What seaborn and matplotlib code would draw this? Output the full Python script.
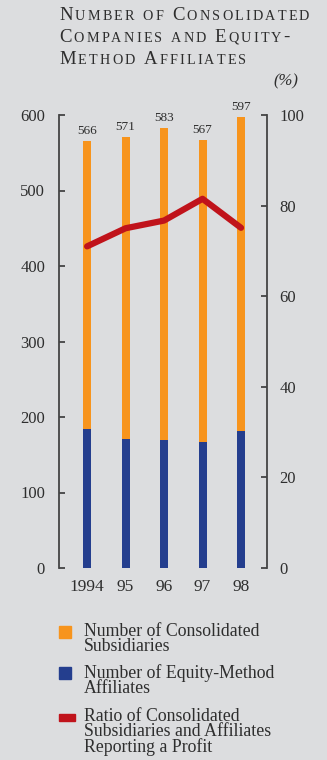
import matplotlib
matplotlib.use("Agg")
import matplotlib.pyplot as plt
import matplotlib.patches as mpatches
import seaborn as sns

# data
years = ["1994", "95", "96", "97", "98"]
consolidated = [566, 571, 583, 567, 597]
equity_method = [184, 171, 170, 167, 181]
profit_ratio = [71.0, 75.0, 76.7, 81.5, 75.1]

legend_labels = ["Number of Consolidated\nSubsidiaries",
                 "Number of Equity-Method\nAffiliates",
                 "Ratio of Consolidated\nSubsidiaries and Affiliates\nReporting a Profit"]

bg = "#dcdddf"
orange = "#f7941d"
blue = "#243e8e"
red = "#c0131b"
ink = "#2e2e2e"
spine_col = "#444444"

sns.set_theme(style="white")
plt.rcParams["font.family"] = ["Liberation Serif", "DejaVu Serif"]

W, H = 327, 760
fig = plt.figure(figsize=(W / 100, H / 100), dpi=100, facecolor=bg)
ax = fig.add_axes([59 / W, 1 - 568 / H, (267 - 59) / W, (568 - 115) / H])
ax.set_facecolor(bg)

sns.barplot(x=years, y=consolidated, color=orange, width=0.21, saturation=1,
            linewidth=0, ax=ax)
sns.barplot(x=years, y=equity_method, color=blue, width=0.21, saturation=1,
            linewidth=0, ax=ax)

for i, v in enumerate(consolidated):
    ax.annotate(str(v), (i, v), xytext=(0, 5), textcoords="offset points",
                ha="center", va="baseline", fontsize=9.5, color=ink)

ax.set_xlim(-0.73, 4.675)
ax.set_ylim(0, 600)
ax.set_yticks([0, 100, 200, 300, 400, 500, 600])
ax.set_xlabel("")
ax.set_ylabel("")

ax2 = ax.twinx()
sns.lineplot(x=list(range(len(years))), y=profit_ratio, color=red, linewidth=4.5,
             solid_capstyle="round", solid_joinstyle="round", ax=ax2)
ax2.set_ylim(0, 100)
ax2.set_yticks([0, 20, 40, 60, 80, 100])
ax2.set_ylabel("")

for a in (ax, ax2):
    for s in ("top", "bottom"):
        a.spines[s].set_visible(False)
ax.spines["right"].set_visible(False)
ax2.spines["left"].set_visible(False)
ax.spines["left"].set_color(spine_col)
ax.spines["left"].set_linewidth(1.3)
ax2.spines["right"].set_color(spine_col)
ax2.spines["right"].set_linewidth(1.3)

ax.tick_params(axis="y", direction="in", length=4, width=1.3, color=spine_col,
               labelsize=12, labelcolor=ink, pad=10, left=True)
ax.tick_params(axis="x", length=0, labelsize=12.5, labelcolor=ink, pad=8)
ax2.tick_params(axis="y", direction="in", length=4, width=1.3, color=spine_col,
                labelsize=12, labelcolor=ink, pad=9, right=True)

fig.text(298 / W, 1 - 85 / H, "(%)", ha="right", va="baseline", fontsize=12,
         style="italic", color=ink)

# small-caps title drawn letter by letter
renderer = fig.canvas.get_renderer()


def small_caps(x_px, y_px, text, big=13.5, small=10.2, track=2.2):
    x = x_px
    for ch in text:
        if ch == " ":
            x += 6.5
            continue
        size = big if (ch.isupper() or not ch.isalpha()) else small
        t = fig.text(x / W, 1 - y_px / H, ch.upper(), fontsize=size, color=ink,
                     ha="left", va="baseline")
        x += t.get_window_extent(renderer).width + track


small_caps(59, 19.5, "Number of Consolidated")
small_caps(59, 42, "Companies and Equity-")
small_caps(59, 63.5, "Method Affiliates")

# legend
items = [(orange, 12, 12, 632), (blue, 12, 12, 673), (red, 16, 7, 717)]
for (col, w, h, y), lab in zip(items, legend_labels):
    fig.add_artist(mpatches.Rectangle((59 / W, 1 - (y + h / 2) / H), w / W, h / H,
                                      transform=fig.transFigure, color=col))
    fig.text(84 / W, 1 - (y - 9) / H, lab, ha="left", va="top", fontsize=12.8,
             color=ink, linespacing=0.86)

fig.savefig("out.png", dpi=100, facecolor=bg)
